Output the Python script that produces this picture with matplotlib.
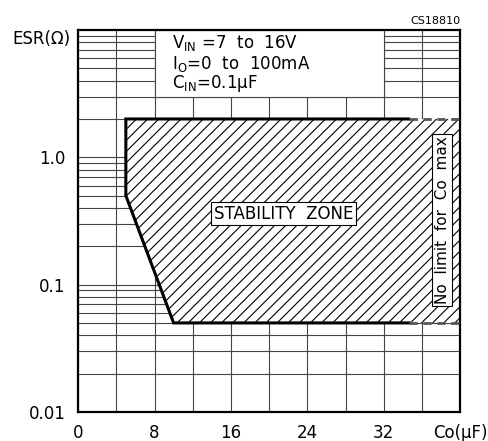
import matplotlib
matplotlib.use("Agg")
import matplotlib.pyplot as plt
from matplotlib.patches import Polygon, Rectangle
from matplotlib.ticker import LogLocator, MultipleLocator, NullFormatter

# stability zone boundary (Co in uF, ESR in ohm)
zone_co = [5, 5, 10, 40, 40]
zone_esr = [2.0, 0.5, 0.05, 0.05, 2.0]
dash_start = 34.6   # beyond this the top / bottom edges are dashed

x_ticks = [0, 8, 16, 24, 32, 40]
x_labels = ["0", "8", "16", "24", "32", "Co(μF)"]
y_ticks = [0.01, 0.1, 1.0]
y_labels = ["0.01", "0.1", "1.0"]

cond_lines = [r"V$_\mathregular{IN}$ =7  to  16V",
              r"I$_\mathregular{O}$=0  to  100mA",
              r"C$_\mathregular{IN}$=0.1$\mathregular{\mu}$F"]
cond_esr = [7.9, 5.4, 3.8]

plt.rcParams['font.family'] = 'DejaVu Sans'
plt.rcParams['hatch.linewidth'] = 0.8

fig = plt.figure(figsize=(4.88, 4.41), dpi=100)
ax = fig.add_axes([0.160, 0.066, 0.783, 0.866])
ax.set_yscale("log")
ax.set_xlim(0, 40)
ax.set_ylim(0.01, 10)

ax.set_xticks(x_ticks)
ax.set_xticklabels(x_labels)
ax.xaxis.set_minor_locator(MultipleLocator(4))
ax.set_yticks(y_ticks)
ax.set_yticklabels(y_labels)
ax.yaxis.set_minor_locator(LogLocator(base=10, subs=range(2, 10)))
ax.yaxis.set_minor_formatter(NullFormatter())
ax.tick_params(which="both", length=0, labelsize=12, pad=9)
ax.tick_params(axis="y", pad=9)

ax.grid(which="both", color="#444444", linewidth=0.8)
ax.set_axisbelow(True)
for s in ax.spines.values():
    s.set_linewidth(1.6)

# hatched zone
pts = list(zip(zone_co, zone_esr))
ax.add_patch(Polygon(pts, closed=True, facecolor="white", edgecolor="black",
                     hatch="///", linewidth=0, zorder=2))
ax.plot([dash_start, 5, 5, 10, dash_start],
        [2.0, 2.0, 0.5, 0.05, 0.05], color="black", lw=2.2, zorder=3,
        solid_joinstyle="miter")
ax.plot([dash_start, 40], [2.0, 2.0], color="#555555", lw=2, ls=(0, (3, 2)), zorder=3)
ax.plot([dash_start, 40], [0.05, 0.05], color="#555555", lw=2, ls=(0, (3, 2)), zorder=3)

# conditions box
ax.add_patch(Rectangle((8, 3), 24, 7, facecolor="white", edgecolor="#444444",
                       linewidth=0.8, zorder=2))
for t, yv in zip(cond_lines, cond_esr):
    ax.text(9.8, yv, t, fontsize=12, ha="left", va="center", zorder=4)

ax.text(21.5, 0.36, "STABILITY  ZONE", fontsize=12, ha="center", va="center", zorder=4,
        bbox=dict(boxstyle="square,pad=0.15", fc="white", ec="black", lw=0.8))
ax.text(38.1, 0.32, "No  limit  for  Co  max", fontsize=11, rotation=90,
        ha="center", va="center", zorder=4,
        bbox=dict(boxstyle="square,pad=0.15", fc="white", ec="black", lw=0.8))

ax.text(-0.02, 0.976, "ESR(Ω)", transform=ax.transAxes, fontsize=12,
        ha="right", va="center")
ax.text(1.0, 1.01, "CS18810", transform=ax.transAxes, fontsize=8,
        ha="right", va="bottom")

fig.savefig("out.png", dpi=100)
